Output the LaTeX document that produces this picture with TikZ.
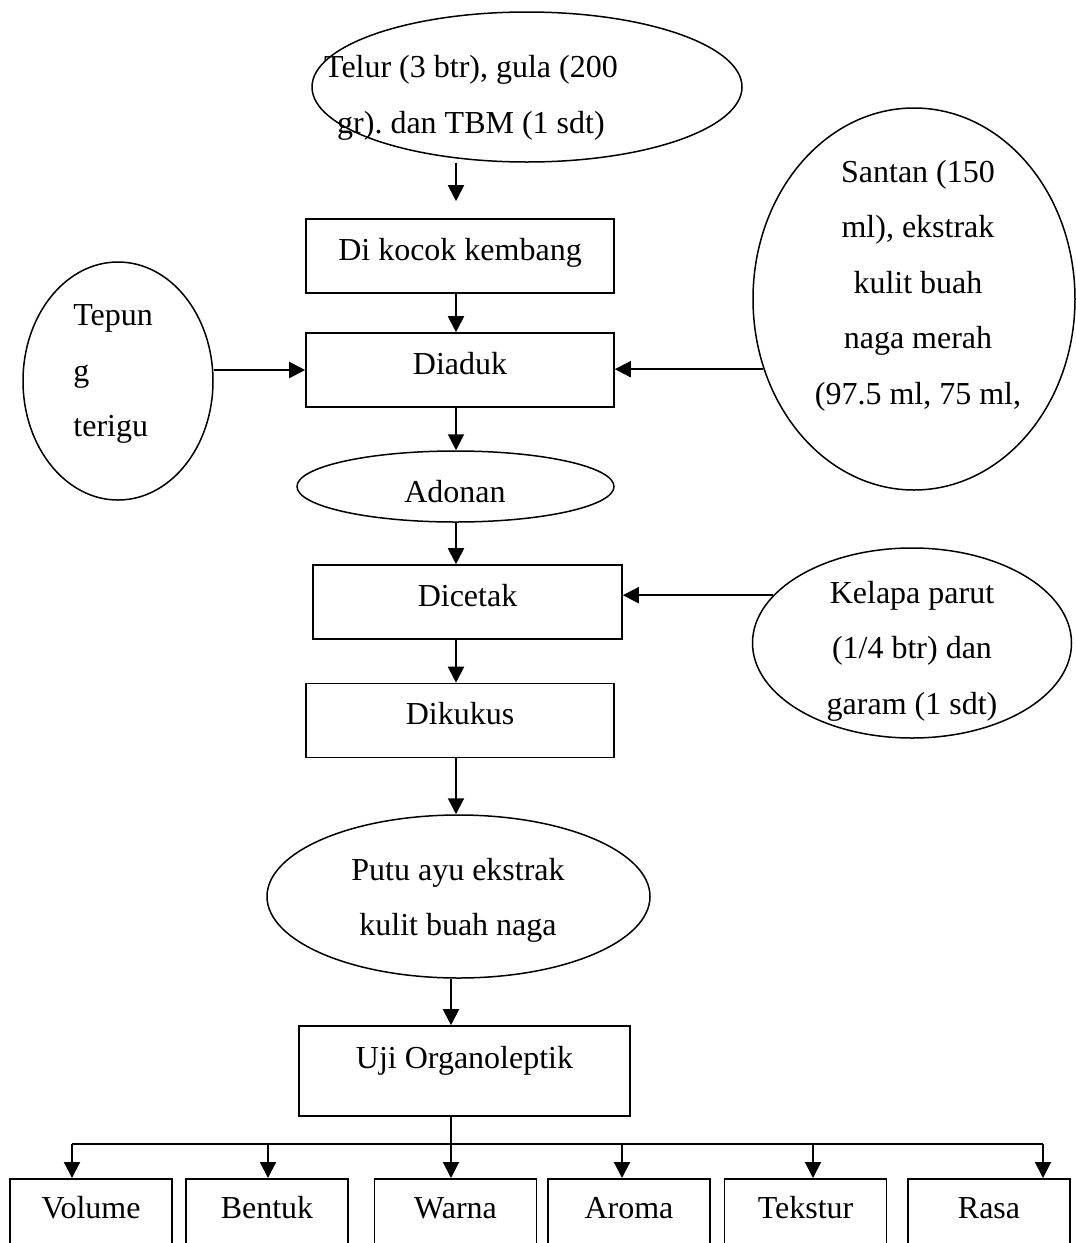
\documentclass[tikz,border=0pt]{standalone}
\usepackage{fontspec}
\setmainfont{Liberation Serif}
\usetikzlibrary{shapes.geometric,arrows.meta}
\frenchspacing
\tikzset{
  proc/.style={draw,rectangle,line width=0.8pt,inner xsep=0pt,inner ysep=0pt,
    text height=20.5pt,text depth=16.5pt,minimum width=#1},
  oval/.style={draw,ellipse,line width=0.75pt,inner sep=0pt},
  arr/.style={line width=1pt,-{Triangle[length=8pt,width=8pt]}},
  lbl/.style={inner sep=0pt,align=center}
}
\begin{document}
\begin{tikzpicture}[x=0.5pt,y=-0.5pt,font=\fontsize{16}{27.8}\selectfont]
\useasboundingbox (0,0) rectangle (1076,1243);
\clip (0,0) rectangle (1076,1243);
\coordinate (spine) at (456,0);
\coordinate (bus) at (451,1144);

% bahan
\node[oval,minimum width=215pt,minimum height=75pt] (telur) at (527,87) {};
\node[lbl] (telurT) at (471,98) {Telur (3 btr), gula (200\\gr). dan TBM (1 sdt)};
\node[oval,minimum width=95pt,minimum height=119pt] (tepung) at (118,381) {};
\node[lbl,align=left,anchor=west] (tepungT) at (73,374) {Tepun\\g\\terigu};
\node[oval,minimum width=161pt,minimum height=191pt] (santan) at (914,299) {};
\node[lbl] (santanT) at (918,285.5)
  {Santan (150\\ml), ekstrak\\kulit buah\\naga merah\\(97.5 ml, 75 ml,};
\node[oval,minimum width=159.5pt,minimum height=95pt] (kelapa) at (912,643) {};
\node[lbl] (kelapaT) at (912,651) {Kelapa parut\\(1/4 btr) dan\\garam (1 sdt)};

% proses
\node[proc=154pt] (dikocok) at (460,256) {Di kocok kembang};
\node[proc=154pt] (diaduk) at (460,370) {Diaduk};
\node[oval,minimum width=158.5pt,minimum height=35.5pt] (adonan) at (455.5,486.5) {};
\node[lbl] (adonanT) at (455,492) {Adonan};
\node[proc=154.5pt] (dicetak) at (467.5,602) {Dicetak};
\node[proc=154pt] (dikukus) at (460,720.5) {Dikukus};
\node[oval,minimum width=191.5pt,minimum height=81.5pt] (putu) at (458.5,896.5) {};
\node[lbl] (putuT) at (458,900.5) {Putu ayu ekstrak\\kulit buah naga};
\node[proc=165.5pt,text height=21pt,text depth=24pt] (uji) at (464.5,1071) {Uji Organoleptik};

\draw[arr,shorten >=8.5pt] (telur.south -| spine) -- (dikocok.north -| spine);
\draw[arr] (dikocok.south -| spine) -- (diaduk.north -| spine);
\draw[arr] (tepung.east |- diaduk.west) -- (diaduk.west);
\draw[arr] (santan.205.4) -- (santan.205.4 -| diaduk.east);
\draw[arr] (diaduk.south -| spine) -- (adonan.north -| spine);
\draw[arr] (adonan.south -| spine) -- (dicetak.north -| spine);
\draw[arr] (kelapa.161.8) -- (kelapa.161.8 -| dicetak.east);
\draw[arr] (dicetak.south -| spine) -- (dikukus.north -| spine);
\draw[arr] (dikukus.south -| spine) -- (putu.north -| spine);
\draw[arr] (putu.south -| bus) -- (uji.north -| bus);
\draw[line width=1pt] (uji.south -| bus) -- (bus);
\draw[line width=1pt] (bus -| 72,0) -- (bus -| 1043,0);

% parameter uji
\foreach \n/\t/\cx/\ax in {volume/Volume/91/72, bentuk/Bentuk/267/268,
    warna/Warna/455.5/451, aroma/Aroma/629/622,
    tekstur/Tekstur/805.5/813, rasa/Rasa/989/1043}{
  \node[proc=81pt,text height=20pt,text depth=40pt,anchor=north] (\n) at (\cx,1178) {\t};
  \draw[arr] (bus -| \ax,0) -- (\n.north -| \ax,0);
}
\end{tikzpicture}
\end{document}
